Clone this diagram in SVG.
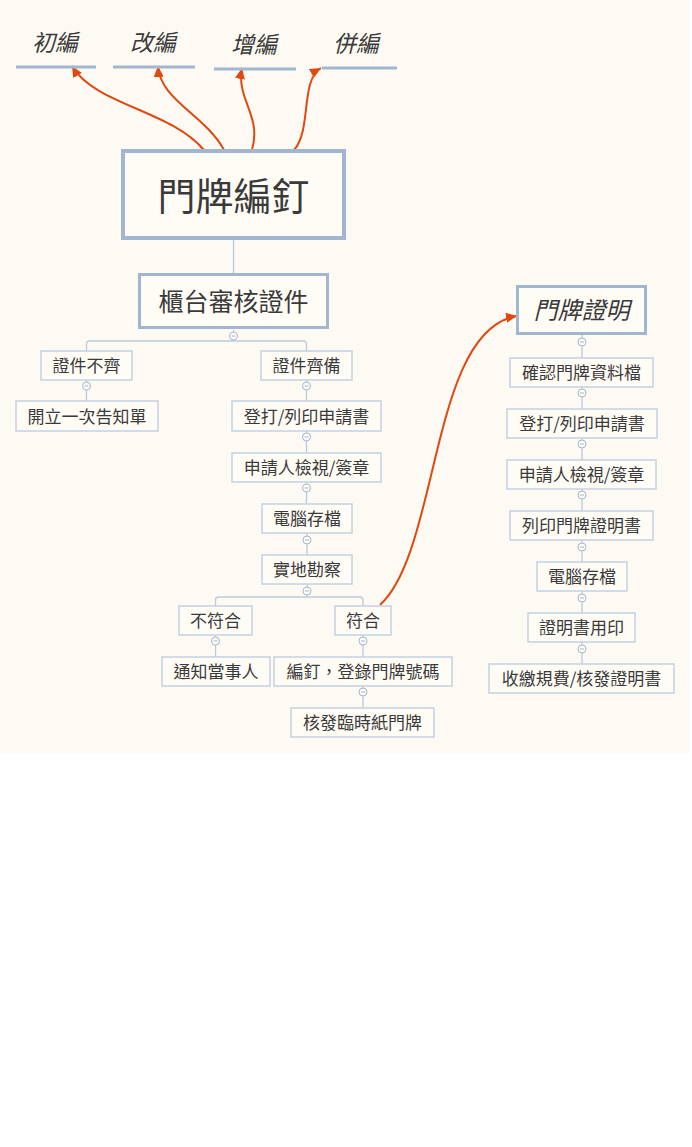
<svg xmlns="http://www.w3.org/2000/svg" width="692" height="1147" viewBox="0 0 692 1147">
<defs>
<marker id="ah" markerUnits="userSpaceOnUse" markerWidth="12" markerHeight="10" refX="11" refY="5" orient="auto">
<path d="M0,0 L11,5 L0,10 z" fill="#e0480f"/>
</marker>
<style>
text{font-family:"Noto Sans CJK TC","Noto Sans CJK SC",sans-serif;fill:#3a3a3a;text-anchor:middle}
.t{font-size:17px}
.it{font-style:italic}
.b{fill:#fffcf6;stroke:#c3d1e2;stroke-width:1.5}
.m{fill:#fffcf6;stroke:#a3b6cf}
.ul{stroke:#a3b6cf;stroke-width:3}
.c{fill:none;stroke:#bccbdd;stroke-width:1.3}
.arr{fill:none;stroke:#e0480f;stroke-width:2;marker-end:url(#ah)}
.k{fill:#fffcf6;stroke:#a3b6cf;stroke-width:1}
.km{stroke:#a3b6cf;stroke-width:1}
</style>
</defs>
<rect x="0" y="0" width="689" height="753" fill="#fdfaf3"/>

<g id="connectors">
<path class="c" d="M233.5,240 V274"/>
<path class="c" d="M233.5,330 V341 M86.5,351 V344 Q86.5,341 89.5,341 H303.5 Q306.5,341 306.5,344 V351"/>
<path class="c" d="M86.5,380 V401"/>
<path class="c" d="M306.5,380 V401 M306.5,431 V453 M306.5,482 V504 M307,533 V555"/>
<path class="c" d="M307,584 V597 M215.5,606 V600 Q215.5,597 218.5,597 H360 Q363,597 363,600 V606"/>
<path class="c" d="M215.5,635 V657 M363,635 V657 M363,686 V708"/>
<path class="c" d="M582,335 V358 M582,387 V409 M582,438 V460 M582,489 V511 M582,540 V562 M582,591 V613 M582,642 V664"/>
<path class="arr" d="M204,150 C170,110 95,105 72,66"/>
<path class="arr" d="M224,150 C205,115 160,100 158,66"/>
<path class="arr" d="M252,150 C262,115 236,100 242,68"/>
<path class="arr" d="M294,150 C312,130 300,80 321,68"/>
<path class="arr" d="M380,605 C440,550 430,330 517,316"/>
<g id="collapse">
<circle class="k" cx="233.5" cy="336" r="4"/><path class="km" d="M231.5,336 H235.5"/>
<circle class="k" cx="86.5" cy="386" r="4"/><path class="km" d="M84.5,386 H88.5"/>
<circle class="k" cx="306.5" cy="386" r="4"/><path class="km" d="M304.5,386 H308.5"/>
<circle class="k" cx="306.5" cy="437" r="4"/><path class="km" d="M304.5,437 H308.5"/>
<circle class="k" cx="306.5" cy="488" r="4"/><path class="km" d="M304.5,488 H308.5"/>
<circle class="k" cx="307" cy="540" r="4"/><path class="km" d="M305,540 H309"/>
<circle class="k" cx="307" cy="591" r="4"/><path class="km" d="M305,591 H309"/>
<circle class="k" cx="215.5" cy="641" r="4"/><path class="km" d="M213.5,641 H217.5"/>
<circle class="k" cx="363" cy="641" r="4"/><path class="km" d="M361,641 H365"/>
<circle class="k" cx="363" cy="692" r="4"/><path class="km" d="M361,692 H365"/>
<circle class="k" cx="582" cy="342" r="4"/><path class="km" d="M580,342 H584"/>
<circle class="k" cx="582" cy="393" r="4"/><path class="km" d="M580,393 H584"/>
<circle class="k" cx="582" cy="444" r="4"/><path class="km" d="M580,444 H584"/>
<circle class="k" cx="582" cy="495" r="4"/><path class="km" d="M580,495 H584"/>
<circle class="k" cx="582" cy="547" r="4"/><path class="km" d="M580,547 H584"/>
<circle class="k" cx="582" cy="598" r="4"/><path class="km" d="M580,598 H584"/>
<circle class="k" cx="582" cy="649" r="4"/><path class="km" d="M580,649 H584"/>
</g>
</g>

<g id="n-chubian"><text class="it" x="55" y="51" font-size="23">初編</text><path class="ul" d="M16,67 H96"/></g>
<g id="n-gaibian"><text class="it" x="153" y="51" font-size="23">改編</text><path class="ul" d="M113,67 H195"/></g>
<g id="n-zengbian"><text class="it" x="254" y="53" font-size="23">增編</text><path class="ul" d="M214,69 H296"/></g>
<g id="n-bingbian"><text class="it" x="356" y="52" font-size="23">併編</text><path class="ul" d="M322,68 H397"/></g>

<g id="n-root"><rect class="m" x="123" y="151" width="221" height="87" stroke-width="4"/><text x="233.5" y="210" font-size="38">門牌編釘</text></g>
<g id="n-counter"><rect class="m" x="139.5" y="274.5" width="188" height="53" stroke-width="3"/><text x="233.5" y="311" font-size="25">櫃台審核證件</text></g>
<g id="n-cert"><rect class="m" x="517.5" y="286.5" width="128" height="47" stroke-width="3"/><text class="it" x="581.5" y="319" font-size="24">門牌證明</text></g>

<g id="n-l1"><rect class="b" x="41" y="351" width="91" height="29"/><text class="t" x="86.5" y="372">證件不齊</text></g>
<g id="n-l2"><rect class="b" x="16" y="401" width="142" height="30"/><text class="t" x="87" y="422.5">開立一次告知單</text></g>
<g id="n-r1"><rect class="b" x="261" y="351" width="91" height="29"/><text class="t" x="306.5" y="372">證件齊備</text></g>
<g id="n-r2"><rect class="b" x="232" y="401" width="149" height="30"/><text class="t" x="306.5" y="422.5">登打/列印申請書</text></g>
<g id="n-r3"><rect class="b" x="232" y="453" width="149" height="29"/><text class="t" x="306.5" y="474">申請人檢視/簽章</text></g>
<g id="n-r4"><rect class="b" x="262" y="504" width="90" height="29"/><text class="t" x="307" y="525">電腦存檔</text></g>
<g id="n-r5"><rect class="b" x="262" y="555" width="90" height="29"/><text class="t" x="307" y="576">實地勘察</text></g>
<g id="n-no"><rect class="b" x="179" y="606" width="73" height="29"/><text class="t" x="215.5" y="627">不符合</text></g>
<g id="n-yes"><rect class="b" x="335" y="606" width="56" height="29"/><text class="t" x="363" y="627">符合</text></g>
<g id="n-notify"><rect class="b" x="162" y="657" width="108" height="29"/><text class="t" x="216" y="678">通知當事人</text></g>
<g id="n-assign"><rect class="b" x="274" y="657" width="178" height="29"/><text class="t" x="363" y="678">編釘，登錄門牌號碼</text></g>
<g id="n-temp"><rect class="b" x="291" y="708" width="143" height="29"/><text class="t" x="362.5" y="729">核發臨時紙門牌</text></g>

<g id="n-c1"><rect class="b" x="510" y="358" width="143" height="29"/><text class="t" x="581.5" y="379">確認門牌資料檔</text></g>
<g id="n-c2"><rect class="b" x="507" y="409" width="150" height="29"/><text class="t" x="582" y="430">登打/列印申請書</text></g>
<g id="n-c3"><rect class="b" x="507" y="460" width="149" height="29"/><text class="t" x="581.5" y="481">申請人檢視/簽章</text></g>
<g id="n-c4"><rect class="b" x="510" y="511" width="143" height="29"/><text class="t" x="581.5" y="532">列印門牌證明書</text></g>
<g id="n-c5"><rect class="b" x="537" y="562" width="90" height="29"/><text class="t" x="582" y="583">電腦存檔</text></g>
<g id="n-c6"><rect class="b" x="528" y="613" width="107" height="29"/><text class="t" x="581.5" y="634">證明書用印</text></g>
<g id="n-c7"><rect class="b" x="489" y="664" width="185" height="29"/><text class="t" x="581.5" y="685">收繳規費/核發證明書</text></g>
</svg>
